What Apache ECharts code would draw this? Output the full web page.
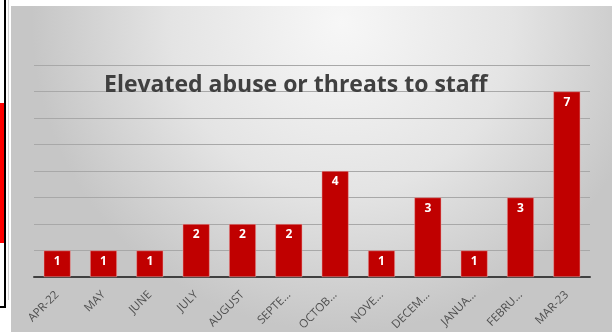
<!DOCTYPE html>
<html>
<head>
<meta charset="utf-8">
<script src="https://cdn.jsdelivr.net/npm/echarts@6/dist/echarts.min.js"></script>
<style>
html,body{margin:0;padding:0;background:#ffffff;}
#main{width:612px;height:333px;}
</style>
</head>
<body>
<div id="main"></div>
<script>
var categories = ['APR-22','MAY','JUNE','JULY','AUGUST','SEPTE...','OCTOB...','NOVE...','DECEM...','JANUA...','FEBRU...','MAR-23'];
var values = [1,1,1,2,2,2,4,1,3,1,3,7];
var titleText = 'Elevated abuse or threats to staff';

var chart = echarts.init(document.getElementById('main'));
chart.setOption({
  animation: false,
  graphic: [
    {
      type: 'rect', z: -10, silent: true,
      shape: {x: 11, y: 6, width: 601, height: 326},
      style: {
        fill: new echarts.graphic.RadialGradient(0.55, 0.05, 0.95, [
          {offset: 0, color: '#f7f7f7'},
          {offset: 0.55, color: '#e4e4e4'},
          {offset: 1, color: '#c6c6c6'}
        ])
      }
    },
    {type: 'rect', z: -9, silent: true, shape: {x: 0, y: 103, width: 4, height: 140}, style: {fill: '#ff0000'}},
    {type: 'line', z: -9, silent: true, shape: {x1: 5, y1: 0, x2: 5, y2: 307}, style: {stroke: '#000', lineWidth: 2}},
    {type: 'line', z: -9, silent: true, shape: {x1: 0, y1: 307, x2: 6, y2: 307}, style: {stroke: '#000', lineWidth: 2}},
    {type: 'line', z: -9, silent: true, shape: {x1: 8.5, y1: 0, x2: 8.5, y2: 300}, style: {stroke: '#d0d0d0', lineWidth: 1}}
  ],
  title: {
    text: titleText,
    left: 99,
    top: 69,
    textStyle: {fontFamily: 'Open Sans', fontWeight: 'bold', fontSize: 23, color: '#404040'}
  },
  grid: {left: 34, right: 22, top: 65, bottom: 56, containLabel: false, outerBoundsMode: 'none'},
  xAxis: {
    type: 'category',
    data: categories,
    axisLine: {lineStyle: {color: '#404040', width: 2}},
    axisTick: {show: false},
    axisLabel: {rotate: 45, interval: 0, color: '#505050', fontSize: 11.5, fontFamily: 'Open Sans', margin: 16}
  },
  yAxis: {
    type: 'value', min: 0, max: 8, interval: 1,
    axisLabel: {show: false},
    axisLine: {show: false},
    axisTick: {show: false},
    splitLine: {lineStyle: {color: '#a8a8a8', width: 1}}
  },
  series: [{
    type: 'bar',
    data: values,
    barWidth: '58%',
    itemStyle: {color: '#c00000', borderColor: '#e8b0b0', borderWidth: 0.5},
    label: {show: true, position: 'insideTop', distance: 5, color: '#ffffff', fontWeight: 'bold', fontSize: 12, fontFamily: 'Open Sans'}
  }]
});
</script>
</body>
</html>
